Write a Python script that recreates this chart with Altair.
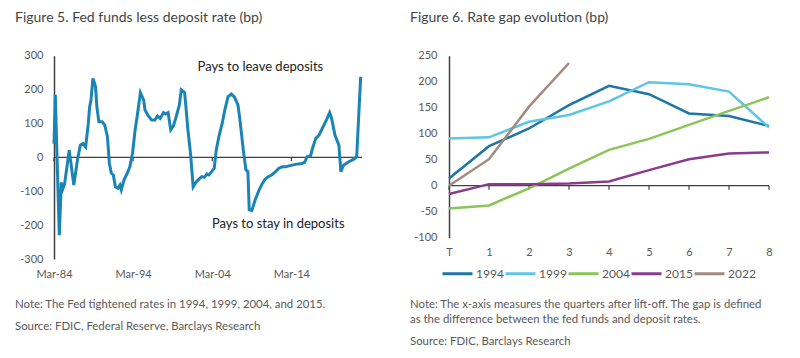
import altair as alt
import pandas as pd

# ---------------- Figure 5 data ----------------
f5_dates = ["1984-03", "1984-05", "1984-07", "1984-11", "1985-02", "1985-04", "1985-07",
            "1986-02", "1986-09", "1987-03", "1987-07", "1987-11", "1988-03", "1988-07",
            "1988-09", "1988-11", "1989-02", "1989-06", "1989-08", "1989-11", "1990-04",
            "1990-08", "1990-12", "1991-03", "1991-06", "1991-09", "1991-12", "1992-04",
            "1992-07", "1992-09", "1993-01", "1993-06", "1993-10", "1994-02", "1994-06",
            "1994-09", "1995-02", "1995-07", "1995-09", "1996-02", "1996-07", "1996-12",
            "1997-04", "1997-08", "1998-01", "1998-04", "1998-08", "1998-12", "1999-04",
            "1999-09", "2000-01", "2000-04", "2000-09", "2000-11", "2001-02", "2001-06",
            "2001-10", "2002-03", "2002-08", "2002-11", "2003-03", "2003-07", "2003-10",
            "2004-02", "2004-06", "2004-09", "2005-01", "2005-06", "2005-10", "2006-03",
            "2006-08", "2007-01", "2007-06", "2007-09", "2008-02", "2008-06", "2008-09",
            "2008-11", "2009-03", "2009-08", "2010-02", "2010-07", "2010-11", "2011-04",
            "2011-09", "2012-03", "2012-08", "2013-01", "2013-06", "2013-10", "2014-04",
            "2014-11", "2015-07", "2015-11", "2016-03", "2016-08", "2016-11", "2017-04",
            "2017-09", "2018-03", "2018-08", "2019-01", "2019-04", "2019-09", "2020-03",
            "2020-06", "2020-10", "2021-06", "2022-01", "2022-06", "2022-12"]
f5_values = [40, 185, 40, -230, -74, -95, -79,
             21, -82, -3, 36, 41, 31, 100,
             149, 169, 233, 208, 149, 105, 105,
             95, 61, -18, -47, -52, -87, -91,
             -82, -96, -67, -47, -28, 12, 81,
             120, 191, 169, 140, 122, 110, 110,
             122, 115, 132, 128, 132, 81, 92,
             125, 154, 199, 191, 149, 81, 12,
             -87, -72, -62, -57, -59, -49, -52,
             -42, -32, 22, 61, 100, 140, 179,
             187, 177, 154, 110, 22, -37, -42,
             -155, -157, -126, -96, -77, -65, -57,
             -52, -42, -32, -28, -28, -26, -23,
             -20, -18, -15, 2, 4, 27, 56,
             66, 90, 110, 132, 115, 66, 36,
             -42, -23, -13, -6, 2, 238]
f5_ticks = [-300, -200, -100, 0, 100, 200, 300]
f5_tick_dates = ["1984-03-01", "1994-03-01", "2004-03-01", "2014-03-01"]
f5_span = ["1984-03-01", "2023-02-01"]
f5_annot_text = ["Pays to leave deposits", "Pays to stay in deposits"]
f5_annot_date = ["2010-04-01", "2012-07-01"]
f5_annot_value = [267, -198]
f5_title = "Figure 5. Fed funds less deposit rate (bp)"
f5_notes = ["Note: The Fed tightened rates in 1994, 1999, 2004, and 2015.",
            "Source: FDIC, Federal Reserve, Barclays Research"]

# ---------------- Figure 6 data ----------------
quarters = [0, 1, 2, 3, 4, 5, 6, 7, 8]
gap_1994 = [14, 76, 110, 155, 192, 176, 139, 134, 115]
gap_1999 = [91, 93, 123, 136, 162, 199, 195, 181, 112]
gap_2004 = [-44, -38, -5, 33, 69, 90, 117, 144, 170]
gap_2015 = [-16, 3, 3, 4, 8, 30, 51, 62, 64]
gap_2022 = [0, 51, 152, 236]
series_names = ["1994", "1999", "2004", "2015", "2022"]
series_colors = ["#1d76a3", "#5fc5e8", "#8cc557", "#8a3b8e", "#a58a7c"]
f6_ticks = [-100, -50, 0, 50, 100, 150, 200, 250]
f6_title = "Figure 6. Rate gap evolution (bp)"
f6_notes = ["Note: The x-axis measures the quarters after lift-off. The gap is defined",
            "as the difference between the fed funds and deposit rates.",
            "Source: FDIC, Barclays Research"]

FONT = "Lato"
TXT = "#595959"
AXC = "#404040"
NOTE_SIZE = 11.4
W, H = 784, 342
PLAIN = "'' + datum.value"

# ---------------- Figure 5 layers ----------------
df5 = pd.DataFrame({"date": [d + "-01" for d in f5_dates], "value": f5_values})
xdom5 = [alt.DateTime(year=1984, month=3, date=1, utc=True),
         alt.DateTime(year=2023, month=2, date=1, utc=True)]
xvals5 = [alt.DateTime(year=int(d[:4]), month=3, date=1, utc=True) for d in f5_tick_dates]
xscale5 = alt.Scale(type="utc", domain=xdom5, range=[46, 354], nice=False)
yscale5 = alt.Scale(domain=[-300, 300], range=[251, 47.7], nice=False)
xaxis5 = alt.Axis(values=xvals5, labelExpr="utcFormat(datum.value, '%b-%y')", orient="bottom",
                  offset=-(H - 251), title=None, domain=False, ticks=False, grid=False,
                  labelPadding=9, labelOverlap=False, labelFlush=False)
yaxis5 = alt.Axis(values=f5_ticks, orient="left", offset=-46, title=None, grid=False,
                  ticks=False, labelPadding=11, labelOverlap=False, labelFlush=False,
                  labelExpr=PLAIN)

zero5 = alt.Chart(pd.DataFrame({"a": [f5_span[0]], "b": [f5_span[1]]})).mark_rule(
    color=AXC, strokeWidth=1.2
).encode(x=alt.X("a:T", scale=xscale5, axis=xaxis5), x2="b:T",
         y=alt.YDatum(0, scale=yscale5, axis=yaxis5))
ticks5 = alt.Chart(pd.DataFrame({"d": f5_tick_dates})).mark_rule(
    color=AXC, strokeWidth=1.2, y2Offset=4
).encode(x=alt.X("d:T", scale=xscale5, axis=xaxis5),
         y=alt.YDatum(0, scale=yscale5, axis=yaxis5), y2=alt.Y2Datum(0))
line5 = alt.Chart(df5).mark_line(color="#1b84b6", strokeWidth=3).encode(
    x=alt.X("date:T", scale=xscale5, axis=xaxis5),
    y=alt.Y("value:Q", scale=yscale5, axis=yaxis5)
)
annot5 = alt.Chart(pd.DataFrame({"t": f5_annot_text, "d": f5_annot_date,
                                 "v": f5_annot_value})).mark_text(
    font=FONT, fontSize=13, color="#222222", align="center", baseline="middle"
).encode(x=alt.X("d:T", scale=xscale5, axis=xaxis5),
         y=alt.Y("v:Q", scale=yscale5, axis=yaxis5), text="t:N")
fig5 = alt.layer(zero5, ticks5, line5, annot5)

# ---------------- Figure 6 layers ----------------
rows = []
for name, vals in zip(series_names, [gap_1994, gap_1999, gap_2004, gap_2015, gap_2022]):
    for q, v in zip(quarters, vals):
        rows.append({"q": q, "gap": v, "series": name})
df6 = pd.DataFrame(rows)
xscale6 = alt.Scale(domain=[0, 8], range=[441, 761], nice=False)
yscale6 = alt.Scale(domain=[-100, 250], range=[229.7, 47.7], nice=False)
xaxis6 = alt.Axis(values=quarters, orient="bottom", offset=-(H - 229.7), title=None,
                  domain=False, ticks=False, grid=False, labelPadding=9, labelOverlap=False,
                  labelFlush=False, labelExpr="datum.value == 0 ? 'T' : datum.label")
yaxis6 = alt.Axis(values=f6_ticks, orient="left", offset=-441, title=None, grid=False,
                  ticks=False, labelPadding=12, labelOverlap=False, labelFlush=False,
                  labelExpr=PLAIN)

zero6 = alt.Chart(pd.DataFrame({"a": [quarters[0]], "b": [quarters[-1]]})).mark_rule(
    color=AXC, strokeWidth=1.2
).encode(x=alt.X("a:Q", scale=xscale6, axis=xaxis6), x2="b:Q",
         y=alt.YDatum(0, scale=yscale6, axis=yaxis6))
ticks6 = alt.Chart(pd.DataFrame({"q": quarters})).mark_rule(
    color=AXC, strokeWidth=1.2, y2Offset=4
).encode(x=alt.X("q:Q", scale=xscale6, axis=xaxis6),
         y=alt.YDatum(0, scale=yscale6, axis=yaxis6), y2=alt.Y2Datum(0))
lines6 = alt.Chart(df6).mark_line(strokeWidth=2.5).encode(
    x=alt.X("q:Q", scale=xscale6, axis=xaxis6),
    y=alt.Y("gap:Q", scale=yscale6, axis=yaxis6),
    color=alt.Color("series:N", scale=alt.Scale(domain=series_names, range=series_colors),
                    legend=alt.Legend(title=None, orient="none", legendX=433, legendY=249,
                                      direction="horizontal", symbolType="stroke",
                                      symbolSize=900, symbolStrokeWidth=3, padding=0,
                                      labelFont=FONT, labelFontSize=12, labelColor=TXT,
                                      labelOffset=2, columnPadding=-5))
)
fig6 = alt.layer(zero6, ticks6, lines6)

# ---------------- titles and notes ----------------
def text_layer(txt, x, y, size, color):
    return alt.Chart(pd.DataFrame({"t": [txt]})).mark_text(
        font=FONT, fontSize=size, color=color, align="left", baseline="middle"
    ).encode(text="t:N", x=alt.value(x), y=alt.value(y))

texts = [
    text_layer(f5_title, 7, 9.5, 14, "#444444"),
    text_layer(f6_title, 402, 9.5, 14, "#444444"),
    text_layer(f5_notes[0], 7, 297, NOTE_SIZE, TXT),
    text_layer(f5_notes[1], 7, 318.7, NOTE_SIZE, TXT),
    text_layer(f6_notes[0], 402, 297, NOTE_SIZE, TXT),
    text_layer(f6_notes[1], 402, 312, NOTE_SIZE, TXT),
    text_layer(f6_notes[2], 402, 333.7, NOTE_SIZE, TXT),
]

chart = alt.layer(fig5, fig6, *texts).resolve_scale(
    x="independent", y="independent"
).resolve_axis(x="independent", y="independent").properties(
    width=W, height=H, autosize=alt.AutoSizeParams(type="none"), padding=0
).configure_view(stroke=None).configure_axis(
    labelFont=FONT, labelFontSize=11, labelColor=TXT,
    domainColor=AXC, domainWidth=1.5, labelOverlap=False
)

chart.save("out.html", embed_options={"renderer": "svg", "actions": False})
